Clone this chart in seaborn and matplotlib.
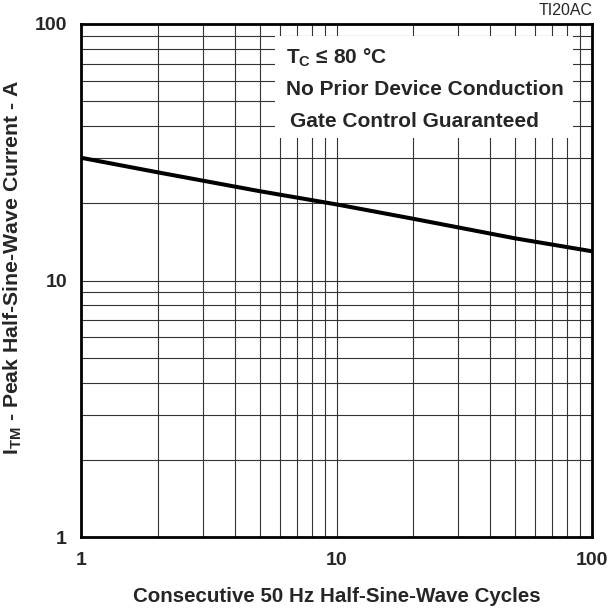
import numpy as np
import pandas as pd
import seaborn as sns
import matplotlib.pyplot as plt
from matplotlib.patches import Rectangle
from matplotlib.ticker import NullFormatter, LogLocator

# values
cycles = [1, 2, 5, 10, 20, 50, 100]
peak_current = [30.1, 26.4, 22.3, 19.8, 17.4, 14.6, 13.0]

notes = [r'T$_{\mathrm{C}}$ ≤ 80 °C', 'No Prior Device Conduction', 'Gate Control Guaranteed']
tick_vals = [1, 10, 100]
tick_labels = ['1', '10', '100']

df = pd.DataFrame({'cycles': cycles, 'current': peak_current})

sns.set_style('white')
plt.rcParams['font.family'] = ['Liberation Sans', 'DejaVu Sans']
plt.rcParams['font.weight'] = 'bold'
plt.rcParams['mathtext.fontset'] = 'custom'
plt.rcParams['mathtext.rm'] = 'Liberation Sans:bold'
plt.rcParams['mathtext.it'] = 'Liberation Sans:bold'
plt.rcParams['mathtext.bf'] = 'Liberation Sans:bold'

fig = plt.figure(figsize=(6.08, 6.10), dpi=100)
ax = fig.add_axes([81/608, 1-537/610, 511/608, 513/610])

sns.lineplot(data=df, x='cycles', y='current', color='black', linewidth=2.9, ax=ax, zorder=3)
ax.set_xscale('log')
ax.set_yscale('log')
ax.set_xlim(1, 100)
ax.set_ylim(1, 100)

ax.set_xticks(tick_vals)
ax.set_xticklabels(tick_labels)
ax.set_yticks(tick_vals)
ax.set_yticklabels(tick_labels)
for axis in (ax.xaxis, ax.yaxis):
    axis.set_minor_locator(LogLocator(base=10, subs=np.arange(2, 10)))
    axis.set_minor_formatter(NullFormatter())
ax.tick_params(which='both', length=0)
ax.tick_params(axis='x', labelsize=14, pad=11)
ax.tick_params(axis='y', labelsize=14, pad=10)
for lab in ax.get_xticklabels() + ax.get_yticklabels():
    lab.set_fontweight('bold')

ax.grid(True, which='both', color='#333333', linewidth=0.8)
ax.set_axisbelow(True)

# white patch behind the notes, blanks out the grid
ax.add_patch(Rectangle((5.74, 35.9), 84.3 - 5.74, 89.8 - 35.9, facecolor='white',
                       edgecolor='none', zorder=1.5))
ax.text(6.35, 74.0, notes[0], fontsize=15, fontweight='bold', va='center', zorder=4)
ax.text(6.35, 55.3, notes[1], fontsize=15, fontweight='bold', va='center', zorder=4)
ax.text(6.55, 41.8, notes[2], fontsize=15, fontweight='bold', va='center', zorder=4)

for s in ax.spines.values():
    s.set_color('black')
    s.set_linewidth(2)

ax.set_xlabel('Consecutive 50 Hz Half-Sine-Wave Cycles', fontsize=14.8, fontweight='bold')
ax.xaxis.set_label_coords(0.5, -0.097)
ax.set_ylabel(r'I$_{\mathrm{TM}}$ - Peak Half-Sine-Wave Current - A', fontsize=15.3, fontweight='bold')
ax.yaxis.set_label_coords(-0.112, 0.525)
fig.text(0.974, 0.995, 'TI20AC', fontsize=11.5, fontweight='normal', ha='right', va='top')

plt.savefig('out.png', dpi=100)
